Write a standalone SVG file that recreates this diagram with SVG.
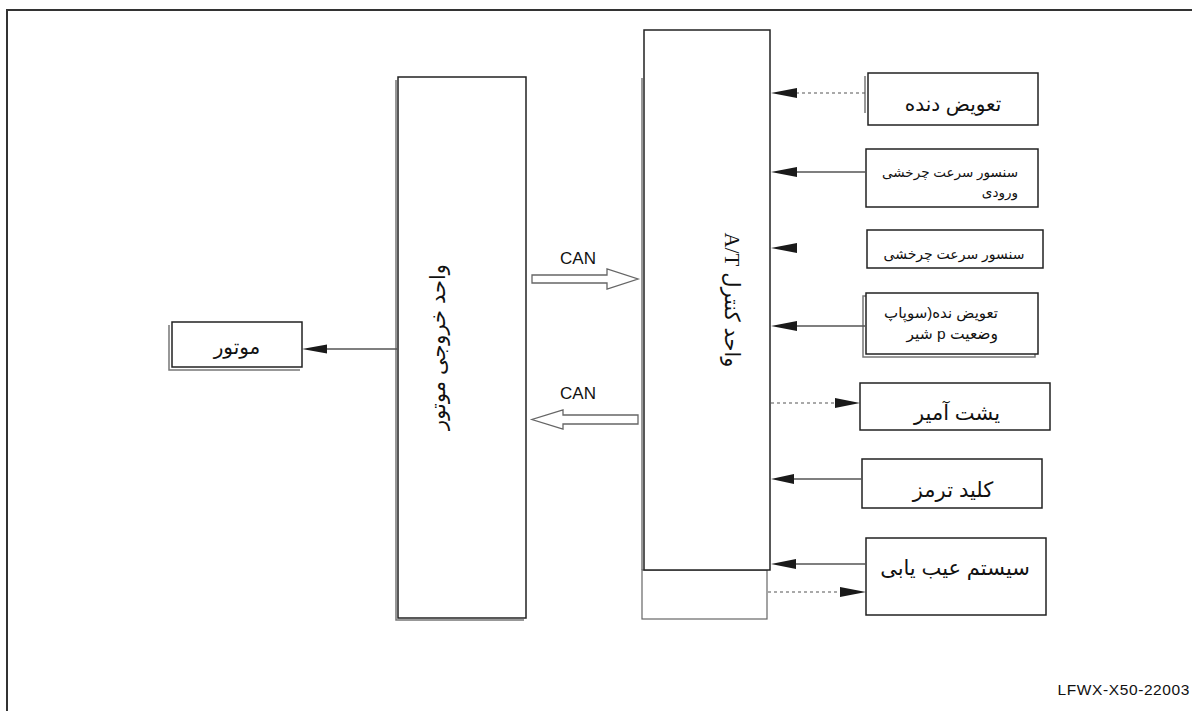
<svg xmlns="http://www.w3.org/2000/svg" width="1192" height="711" viewBox="0 0 1192 711">
<style>
.box{fill:#fff;stroke:#222;stroke-width:1.5}
.sh{fill:none;stroke:#777;stroke-width:1.5}
.t{font-family:"Liberation Sans",Arial,"DejaVu Sans",sans-serif;fill:#111}
.rtl{direction:rtl}
.ln{stroke:#555;stroke-width:1.3;fill:none}
.dash{stroke:#555;stroke-width:1.2;fill:none;stroke-dasharray:3,3}
.ah{fill:#1a1a1a}
.can{fill:#fff;stroke:#666;stroke-width:1.3}
</style>
<rect width="1192" height="711" fill="#fff"/>
<path d="M7,711 V10 H1192" fill="none" stroke="#333" stroke-width="2"/>

<g id="engine-output-unit">
<path class="sh" d="M396,80 V620 H524"/>
<rect class="box" x="398" y="77" width="128" height="541"/>
<text class="t rtl" font-size="21" text-anchor="middle" dominant-baseline="central" transform="translate(437,347) rotate(-90)">واحد خروجی موتور</text>
</g>

<g id="motor">
<path class="sh" d="M169,325 V370 H300"/>
<rect class="box" x="172" y="322" width="130" height="45"/>
<text class="t rtl" font-size="20" text-anchor="middle" x="237" y="354">موتور</text>
</g>

<g id="at-control-unit">
<path class="sh" d="M642,78 V570"/>
<rect x="642" y="570" width="125" height="49" fill="#fff" stroke="#666" stroke-width="1.2"/>
<rect class="box" x="644" y="30" width="126" height="540"/>
<text class="t rtl" font-size="21" text-anchor="middle" dominant-baseline="central" transform="translate(732,300) rotate(90)">واحد کنترل <tspan font-family="'Liberation Serif',serif">A/T</tspan></text>
</g>

<g id="gear-shift">
<path class="sh" d="M865,76 V113"/>
<rect class="box" x="868" y="73" width="170" height="52"/>
<text class="t rtl" font-size="20" text-anchor="middle" x="953" y="111">تعویض دنده</text>
</g>

<g id="input-speed-sensor">
<rect class="box" x="866" y="149" width="172" height="58"/>
<text class="t rtl" font-size="13.5" text-anchor="start" x="1018" y="177">سنسور سرعت چرخشی</text>
<text class="t rtl" font-size="13.5" text-anchor="start" x="1018" y="197">ورودی</text>
</g>

<g id="speed-sensor">
<rect class="box" x="867" y="230" width="176" height="38"/>
<text class="t rtl" font-size="14" text-anchor="middle" x="954" y="259">سنسور سرعت چرخشی</text>
</g>

<g id="shift-valve">
<rect class="sh" x="863" y="296" width="172" height="61"/>
<rect class="box" x="866" y="293" width="172" height="61"/>
<text class="t rtl" font-size="15" text-anchor="start" x="998" y="318">تعویض نده(سوپاپ</text>
<text class="t rtl" font-size="15.5" text-anchor="start" x="998" y="339">وضعیت  p شیر</text>
</g>

<g id="indicator">
<rect class="box" x="860" y="383" width="190" height="47"/>
<text class="t rtl" font-size="21" text-anchor="middle" x="957" y="420">یشت آمیر</text>
</g>

<g id="brake-switch">
<rect class="box" x="862" y="459" width="180" height="49"/>
<text class="t rtl" font-size="21" text-anchor="middle" x="953" y="497">کلید ترمز</text>
</g>

<g id="diagnosis-system">
<rect class="box" x="866" y="538" width="180" height="77"/>
<text class="t rtl" font-size="21" text-anchor="middle" x="955" y="575">سیستم عیب یابی</text>
</g>

<g id="connectors">
<line class="ln" x1="397" y1="349" x2="326" y2="349"/>
<polygon class="ah" points="302,349 327,344.5 327,353.5"/>

<line class="dash" x1="865" y1="93" x2="797" y2="93"/>
<polygon class="ah" points="771,93 797,88 797,98"/>

<line class="ln" x1="866" y1="172" x2="796" y2="172"/>
<polygon class="ah" points="771,172 797,167 797,177"/>

<polygon class="ah" points="771,248 797,243 797,253"/>

<line class="ln" x1="865" y1="326" x2="796" y2="326"/>
<polygon class="ah" points="771,326 797,321 797,331"/>

<line class="dash" x1="771" y1="403" x2="837" y2="403"/>
<polygon class="ah" points="860,403 835,398 835,408"/>

<line class="ln" x1="862" y1="479" x2="792" y2="479"/>
<polygon class="ah" points="771,479 794,474 794,484"/>

<line class="ln" x1="866" y1="564" x2="794" y2="564"/>
<polygon class="ah" points="771,564 796,559 796,569"/>

<line class="dash" x1="768" y1="592" x2="842" y2="592"/>
<polygon class="ah" points="866,592 840,587 840,597"/>

<polygon class="can" points="532,275 607,275 607,269 638,279 607,289 607,283 532,283"/>
<text class="t" font-size="17" fill="#333" text-anchor="middle" x="578" y="264">CAN</text>
<polygon class="can" points="638,415 563,415 563,410 532,419.5 563,429 563,424 638,424"/>
<text class="t" font-size="17" fill="#333" text-anchor="middle" x="578" y="399">CAN</text>
</g>

<text class="t" font-size="15.5" fill="#444" text-anchor="end" x="1190" y="695" letter-spacing="0.6">LFWX-X50-22003</text>
</svg>
